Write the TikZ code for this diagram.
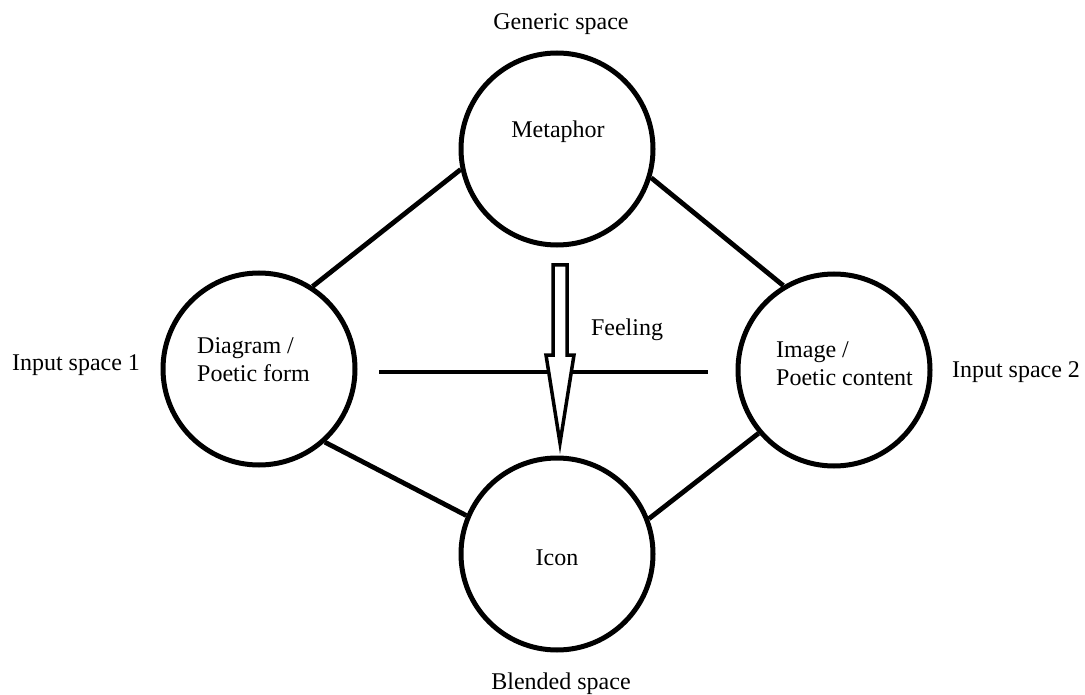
\documentclass[tikz,border=0pt]{standalone}
\usepackage{fontspec}
\setmainfont{Liberation Serif}
\usetikzlibrary{calc}
\begin{document}
\begin{tikzpicture}[x=1pt,y=-1pt,
  space/.style={circle,draw=black,line width=5pt,minimum size=192pt,inner sep=0pt},
  lbl/.style={font=\fontsize{24}{28}\selectfont,inner sep=0pt,anchor=base},
  mlbl/.style={lbl,align=left,anchor=base west},
  link/.style={line width=4.8pt}]
\useasboundingbox[fill=white] (0,0) rectangle (1085,695);

% the four mental spaces
\node[space] (meta) at (557,149) {};
\node[space] (icon) at (557,554) {};
\node[space] (dia)  at (259,369) {};
\node[space] (img)  at (834,370) {};

% links between the spaces
\draw[link] (dia.57)  -- (meta.192);
\draw[link] (meta.343) -- (img.121);
\draw[link] (dia.312) -- (icon.157);
\draw[link] (icon.21) -- (img.220);

% cross-space mapping
\coordinate (hl) at (379,372);
\coordinate (hr) at (708,372);
\draw[link] (hl) -- (hr);

% projection into the blend
\coordinate (fa) at (560,265);
\coordinate (fb) at (560,443);
\draw[line width=3.5pt,line join=miter,fill=white]
  ($(fa)+(-7,0)$) -- ($(fa)+(7,0)$) -- ($(fa)+(7,90)$) -- ($(fa)+(14,90)$)
  -- (fb) -- ($(fa)+(-14,90)$) -- ($(fa)+(-7,90)$) -- cycle;

% texts
\node[lbl] (tgen) at (561,30) {Generic space};
\node[lbl] (tmet) at (558,138) {Metaphor};
\node[lbl] (ticon) at (557,565) {Icon};
\node[lbl] (tblend) at (561,689) {Blended space};
\node[lbl] (tfeel) at (627,335) {Feeling};
\node[lbl] (tin1) at (76,370) {Input space 1};
\node[lbl] (tin2) at (1016,377) {Input space 2};
\node[mlbl] (tdia) at (197,381) {Diagram /\\Poetic form};
\node[mlbl] (timg) at (776,385) {Image /\\Poetic content};
\end{tikzpicture}
\end{document}
